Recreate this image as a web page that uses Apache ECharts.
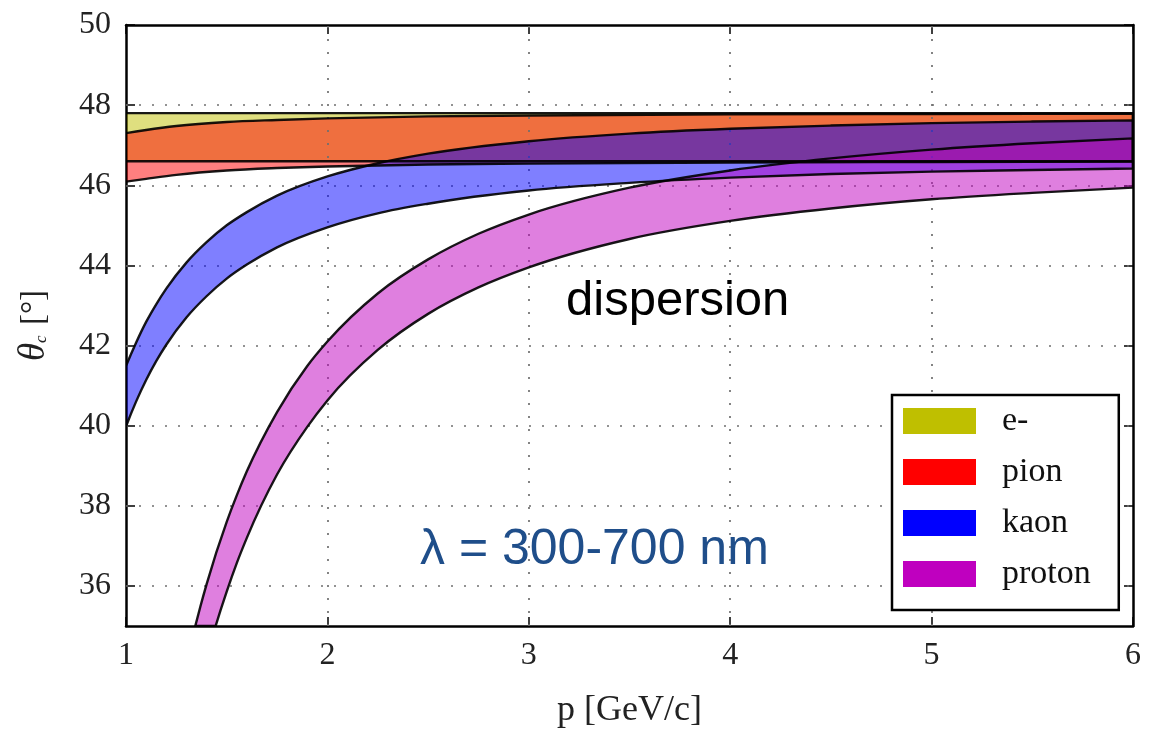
<!DOCTYPE html>
<html><head><meta charset="utf-8">
<script src="https://cdn.jsdelivr.net/npm/echarts@6/dist/echarts.min.js"></script>
<style>html,body{margin:0;padding:0;background:#fff}#c{width:1151px;height:731px}</style>
</head><body><div id="c"></div>
<script>
// ---- data ----
const particles = ['e-', 'pion', 'kaon', 'proton'];
const legendColors = ['#bfbf00', '#ff0000', '#0000ff', '#bf00bf'];
const bandFills = ['rgba(191,191,0,0.5)', 'rgba(255,0,0,0.5)', 'rgba(0,0,255,0.5)', 'rgba(191,0,191,0.5)'];

const xTicks = [1, 2, 3, 4, 5, 6];
const yTicks = [36, 38, 40, 42, 44, 46, 48, 50];
const xGrid = [2, 3, 4, 5];
const yGrid = [36, 38, 40, 42, 44, 46, 48];

const eP  = [1, 6];
const eHi = [47.8, 47.8];
const eLo = [46.6, 46.6];

const pionP  = [1, 1.1, 1.25, 1.5, 1.75, 2, 2.5, 3, 4, 5, 6];
const pionHi = [47.30, 47.38, 47.48, 47.58, 47.63, 47.67, 47.72, 47.74, 47.77, 47.78, 47.79];
const pionLo = [46.09, 46.16, 46.26, 46.37, 46.43, 46.47, 46.52, 46.54, 46.57, 46.58, 46.59];

const kaonP  = [1, 1.05, 1.1, 1.15, 1.2, 1.3, 1.4, 1.5, 1.6, 1.75, 2, 2.25, 2.5, 3, 3.5, 4, 4.5, 5, 5.5, 6];
const kaonHi = [41.49, 42.07, 42.59, 43.03, 43.42, 44.07, 44.58, 45.00, 45.33, 45.74, 46.22, 46.55, 46.79, 47.10, 47.29, 47.41, 47.49, 47.55, 47.59, 47.62];
const kaonLo = [39.98, 40.60, 41.14, 41.61, 42.02, 42.70, 43.23, 43.67, 44.02, 44.45, 44.95, 45.30, 45.54, 45.87, 46.06, 46.19, 46.28, 46.34, 46.38, 46.42];

const protonHiP = [1.344, 1.37, 1.4, 1.5, 1.55, 1.6, 1.75, 1.9, 2, 2.25, 2.5, 2.75, 3, 3.5, 4, 4.5, 5, 5.5, 6];
const protonHi  = [35.0, 35.5, 36.04, 37.60, 38.26, 38.86, 40.34, 41.49, 42.10, 43.30, 44.15, 44.79, 45.27, 45.94, 46.37, 46.67, 46.89, 47.05, 47.17];
const protonLoP = [1.445, 1.47, 1.5, 1.55, 1.6, 1.75, 1.9, 2, 2.25, 2.5, 2.75, 3, 3.5, 4, 4.5, 5, 5.5, 6];
const protonLo  = [35.0, 35.40, 35.86, 36.57, 37.20, 38.78, 39.97, 40.63, 41.89, 42.79, 43.45, 43.95, 44.66, 45.11, 45.42, 45.65, 45.81, 45.94];

const bands = [
  { hiP: eP, hi: eHi, loP: eP, lo: eLo },
  { hiP: pionP, hi: pionHi, loP: pionP, lo: pionLo },
  { hiP: kaonP, hi: kaonHi, loP: kaonP, lo: kaonLo },
  { hiP: protonHiP, hi: protonHi, loP: protonLoP, lo: protonLo }
];

const serif = 'Liberation Serif';

// smooth drawing of an edge through pixel points (x increasing): cubic Hermite segments
function tangents(pts) {
  const n = pts.length, m = [];
  if (n < 3) {
    const d = (pts[1][1] - pts[0][1]) / (pts[1][0] - pts[0][0]);
    return [d, d];
  }
  const h = [], d = [];
  for (let i = 0; i < n - 1; i++) {
    h.push(pts[i + 1][0] - pts[i][0]);
    d.push((pts[i + 1][1] - pts[i][1]) / h[i]);
  }
  m[0] = ((2 * h[0] + h[1]) * d[0] - h[0] * d[1]) / (h[0] + h[1]);
  for (let i = 1; i < n - 1; i++) {
    m[i] = (d[i - 1] * h[i] + d[i] * h[i - 1]) / (h[i - 1] + h[i]);
  }
  const k = n - 1;
  m[k] = ((2 * h[k - 1] + h[k - 2]) * d[k - 1] - h[k - 1] * d[k - 2]) / (h[k - 1] + h[k - 2]);
  return m;
}
function curveSegments(pts, reverse) {
  const m = tangents(pts);
  const segs = [];
  const n = pts.length;
  if (!reverse) {
    for (let i = 0; i < n - 1; i++) {
      const h = pts[i + 1][0] - pts[i][0];
      segs.push('C' + (pts[i][0] + h / 3) + ',' + (pts[i][1] + m[i] * h / 3) + ' ' +
        (pts[i + 1][0] - h / 3) + ',' + (pts[i + 1][1] - m[i + 1] * h / 3) + ' ' +
        pts[i + 1][0] + ',' + pts[i + 1][1]);
    }
  } else {
    for (let i = n - 1; i > 0; i--) {
      const h = pts[i][0] - pts[i - 1][0];
      segs.push('C' + (pts[i][0] - h / 3) + ',' + (pts[i][1] - m[i] * h / 3) + ' ' +
        (pts[i - 1][0] + h / 3) + ',' + (pts[i - 1][1] + m[i - 1] * h / 3) + ' ' +
        pts[i - 1][0] + ',' + pts[i - 1][1]);
    }
  }
  return segs.join(' ');
}

function bandPath(b, api) {
  const top = b.hiP.map((p, k) => api.coord([p, b.hi[k]]));
  const bot = b.loP.map((p, k) => api.coord([p, b.lo[k]]));
  return 'M' + top[0][0] + ',' + top[0][1] + ' ' + curveSegments(top, false) +
    ' L' + bot[bot.length - 1][0] + ',' + bot[bot.length - 1][1] + ' ' +
    curveSegments(bot, true) + ' Z';
}

// filled band (appears in the legend)
function bandSeries(i) {
  const b = bands[i];
  return {
    name: particles[i],
    type: 'custom',
    coordinateSystem: 'cartesian2d',
    clip: true,
    z: 3 + i,
    itemStyle: { color: legendColors[i] },
    data: [[b.hiP[0], b.hi[0]]],
    renderItem: function (params, api) {
      return {
        type: 'path',
        shape: { pathData: bandPath(b, api) },
        style: { fill: bandFills[i], stroke: null }
      };
    }
  };
}
// black outline of the band, drawn above all fills
function edgeSeries(i) {
  const b = bands[i];
  return {
    name: particles[i] + ' edge',
    type: 'custom',
    coordinateSystem: 'cartesian2d',
    clip: true,
    silent: true,
    z: 10,
    data: [[b.hiP[0], b.hi[0]]],
    renderItem: function (params, api) {
      return {
        type: 'path',
        shape: { pathData: bandPath(b, api) },
        style: { fill: null, stroke: 'rgba(0,0,0,0.9)', lineWidth: 2.4, lineJoin: 'round' }
      };
    }
  };
}

const gridStyle = { type: [2, 11], color: '#6f6f6f', width: 1.7 };

const chart = echarts.init(document.getElementById('c'), null, { renderer: 'canvas' });
chart.setOption({
  animation: false,
  backgroundColor: '#fff',
  grid: { left: 126, right: 18, top: 25, bottom: 105, containLabel: false, outerBoundsMode: 'none' },
  xAxis: [
    {
      type: 'value', min: 1, max: 6, interval: 1, position: 'bottom',
      name: 'p [GeV/c]', nameLocation: 'middle', nameGap: 67,
      nameTextStyle: { fontFamily: serif, fontSize: 36, color: '#222' },
      axisLine: { show: true, onZero: false, lineStyle: { color: '#000', width: 2.5 } },
      axisTick: { show: true, inside: true, length: 9, lineStyle: { color: '#000', width: 1.5 } },
      axisLabel: { show: true, margin: 14, fontFamily: serif, fontSize: 32, color: '#222',
        customValues: xTicks },
      splitLine: { show: false }
    },
    {
      type: 'value', min: 1, max: 6, interval: 1, position: 'top',
      axisLine: { show: true, onZero: false, lineStyle: { color: '#000', width: 2.5 } },
      axisTick: { show: true, inside: true, length: 9, lineStyle: { color: '#000', width: 1.5 } },
      axisLabel: { show: false },
      splitLine: { show: false }
    }
  ],
  yAxis: [
    {
      type: 'value', min: 35, max: 50, position: 'left',
      name: '{t|θ}{s|c}{n| [°]}', nameLocation: 'middle', nameGap: 72,
      nameTextStyle: {
        fontFamily: serif, fontSize: 34, color: '#222',
        rich: {
          t: { fontFamily: serif, fontStyle: 'italic', fontSize: 37, color: '#222', lineHeight: 40, verticalAlign: 'middle' },
          s: { fontFamily: serif, fontStyle: 'italic', fontSize: 17, color: '#222', lineHeight: 40, verticalAlign: 'bottom', padding: [0, 2, 4, 0] },
          n: { fontFamily: serif, fontSize: 33, color: '#222', lineHeight: 40, verticalAlign: 'middle' }
        }
      },
      axisLine: { show: true, onZero: false, lineStyle: { color: '#000', width: 2.5 } },
      axisTick: { show: true, inside: true, length: 9, customValues: yTicks, lineStyle: { color: '#000', width: 1.5 } },
      axisLabel: { show: true, margin: 15, fontFamily: serif, fontSize: 32, color: '#222', customValues: yTicks },
      splitLine: { show: false }
    },
    {
      type: 'value', min: 35, max: 50, position: 'right',
      axisLine: { show: true, onZero: false, lineStyle: { color: '#000', width: 2.5 } },
      axisTick: { show: true, inside: true, length: 9, customValues: yTicks, lineStyle: { color: '#000', width: 1.5 } },
      axisLabel: { show: false },
      splitLine: { show: false }
    }
  ],
  legend: {
    data: particles,
    orient: 'vertical',
    left: 892, top: 395,
    icon: 'rect',
    itemWidth: 73, itemHeight: 26, itemGap: 17,
    padding: [9, 28, 19, 11],
    borderColor: '#000', borderWidth: 2.5,
    backgroundColor: '#fff',
    selectedMode: false,
    z: 20,
    itemStyle: { borderWidth: 0 },
    textStyle: { fontFamily: serif, fontSize: 34, color: '#111', lineHeight: 26, padding: [0, 0, 0, 21] }
  },
  graphic: [
    { type: 'text', z: 100, style: { text: 'dispersion', x: 566, y: 301, font: '49px "Liberation Sans", Arial, sans-serif', fill: '#000', textAlign: 'left', textVerticalAlign: 'middle' } },
    { type: 'text', z: 100, style: { text: 'λ = 300-700 nm', x: 420, y: 550, font: '50px "Liberation Sans", Arial, sans-serif', fill: '#1f4e8a', textAlign: 'left', textVerticalAlign: 'middle' } }
  ],
  series: [
    {
      name: 'grid', type: 'line', data: [], z: 1, silent: true,
      markLine: {
        silent: true, symbol: 'none', label: { show: false },
        lineStyle: gridStyle,
        data: yGrid.map(v => ({ yAxis: v })).concat(xGrid.map(v => ({ xAxis: v })))
      }
    },
    bandSeries(0), bandSeries(1), bandSeries(2), bandSeries(3),
    edgeSeries(0), edgeSeries(1), edgeSeries(2), edgeSeries(3)
  ]
});
</script></body></html>
